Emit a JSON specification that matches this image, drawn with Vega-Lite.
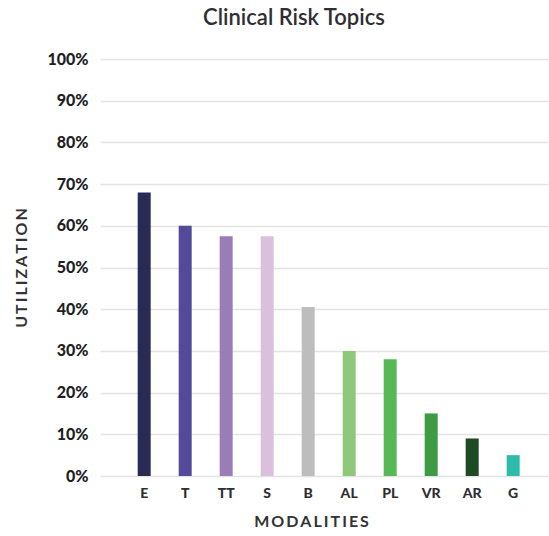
{
  "$schema": "https://vega.github.io/schema/vega-lite/v6.json",
  "autosize": {"type": "none"},
  "width": 448,
  "height": 417,
  "padding": {"left": 100, "top": 59, "right": 1, "bottom": 60},
  "background": "#ffffff",
  "title": {
    "text": "Clinical Risk Topics",
    "font": "Lato",
    "fontSize": 22,
    "fontWeight": 600,
    "color": "#2e2e33",
    "anchor": "middle",
    "dx": -30,
    "offset": 21
  },
  "data": {
    "values": [
      {"modality": "E", "utilization": 0.68, "color": "#2b2a57"},
      {"modality": "T", "utilization": 0.60, "color": "#534a9c"},
      {"modality": "TT", "utilization": 0.575, "color": "#9a7db7"},
      {"modality": "S", "utilization": 0.575, "color": "#dbc0dd"},
      {"modality": "B", "utilization": 0.405, "color": "#bdbdbd"},
      {"modality": "AL", "utilization": 0.30, "color": "#8fc87a"},
      {"modality": "PL", "utilization": 0.28, "color": "#57b858"},
      {"modality": "VR", "utilization": 0.15, "color": "#3d9a45"},
      {"modality": "AR", "utilization": 0.09, "color": "#1e4a24"},
      {"modality": "G", "utilization": 0.05, "color": "#2dbbab"}
    ]
  },
  "mark": {"type": "bar"},
  "encoding": {
    "x": {
      "field": "modality",
      "type": "nominal",
      "sort": null,
      "scale": {"paddingInner": 0.683, "paddingOuter": 0.805, "align": 0.571},
      "axis": {
        "title": "M\u2009O\u2009D\u2009A\u2009L\u2009I\u2009T\u2009I\u2009E\u2009S",
        "titleFont": "Lato",
        "titleFontSize": 16,
        "titleFontWeight": "bold",
        "titleColor": "#333333",
        "titlePadding": 13,
        "titleX": 211,
        "labelFont": "Lato",
        "labelFontSize": 14,
        "labelFontWeight": 900,
        "labelColor": "#2e2e33",
        "labelAngle": 0,
        "labelPadding": 10,
        "ticks": false,
        "domain": false
      }
    },
    "y": {
      "field": "utilization",
      "type": "quantitative",
      "scale": {"domain": [0, 1]},
      "axis": {
        "title": "U\u2009T\u2009I\u2009L\u2009I\u2009Z\u2009A\u2009T\u2009I\u2009O\u2009N",
        "titleFont": "Lato",
        "titleFontSize": 16,
        "titleFontWeight": "bold",
        "titleColor": "#333333",
        "titlePadding": 17,
        "format": ".0%",
        "values": [0, 0.1, 0.2, 0.3, 0.4, 0.5, 0.6, 0.7, 0.8, 0.9, 1],
        "labelFont": "Lato",
        "labelFontSize": 16,
        "labelFontWeight": 900,
        "labelColor": "#1f1f26",
        "labelPadding": 12,
        "ticks": false,
        "domain": false,
        "grid": true,
        "gridColor": "#e3e3e3",
        "gridWidth": 1.5
      }
    },
    "color": {"field": "color", "type": "nominal", "scale": null}
  },
  "config": {"view": {"stroke": null}}
}
